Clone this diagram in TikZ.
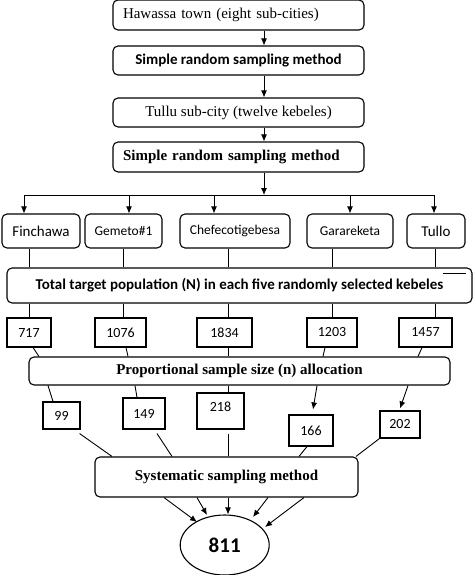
\documentclass[tikz,border=0pt]{standalone}
\usepackage{fontspec}
\setmainfont{Liberation Serif}
\newfontfamily\calib{Carlito}
\usetikzlibrary{arrows.meta, positioning, shapes.geometric}

\begin{document}
\begin{tikzpicture}[
    x=1pt, y=-1pt,
    step_box/.style={draw, rounded corners=5pt, line width=1.1pt, inner sep=0pt, font=\fontsize{15}{18}\selectfont},
    kebele_box/.style={step_box, minimum height=34pt, font=\calib\fontsize{13.5}{16}\selectfont},
    num_box/.style={draw, line width=1.1pt, inner sep=0pt, font=\calib\fontsize{14}{16}\selectfont},
    arrow/.style={-{Latex[length=7pt,width=6pt]}, line width=0.9pt},
    link/.style={line width=0.9pt}
]
    \useasboundingbox (0,0) rectangle (473,575);

    % Spine of the top part and the five kebele columns
    \coordinate (spine) at (264,0);
    \coordinate (col_a) at (29,0);
    \coordinate (col_b) at (123,0);
    \coordinate (col_c) at (228,0);
    \coordinate (col_d) at (332,0);
    \coordinate (col_e) at (435,0);

    % Sub-city selection steps
    \node[step_box, minimum width=251pt, minimum height=30pt, text width=231pt, align=left, inner xsep=10pt] (hawassa) at (238.5,15) {Hawassa town (eight sub-cities)};
    \node[step_box, minimum width=251pt, minimum height=29pt, font=\calib\bfseries\fontsize{15}{18}\selectfont] (srs_city) at (238.5,60.5) {Simple random sampling method};
    \node[step_box, minimum width=251pt, minimum height=29pt] (tullu) at (238.5,112.5) {Tullu sub-city (twelve kebeles)};
    \node[step_box, minimum width=251pt, minimum height=30pt, text width=231pt, align=left, inner xsep=10pt, font=\bfseries\fontsize{15}{18}\selectfont] (srs_kebele) at (238.5,157) {Simple random sampling method};

    \draw[arrow] (hawassa.south -| spine) -- (srs_city.north -| spine);
    \draw[arrow] (srs_city.south -| spine) -- (tullu.north -| spine);
    \draw[arrow] (tullu.south -| spine) -- (srs_kebele.north -| spine);

    % Distribution bar to the kebeles
    \coordinate (bar_left) at (24,195);
    \coordinate (bar_right) at (434,195);
    \draw[arrow] (srs_kebele.south -| spine) -- (bar_left -| spine);
    \draw[link] (bar_left) -- (bar_right);

    % Randomly selected kebeles
    \node[kebele_box, minimum width=78pt, font=\calib\fontsize{15}{18}\selectfont] (finchawa) at (41,231) {Finchawa};
    \node[kebele_box, minimum width=77pt] (gemeto) at (123.5,231) {Gemeto\#1};
    \node[kebele_box, minimum width=110pt] (chefeco) at (235,231) {Chefecotigebesa};
    \node[kebele_box, minimum width=86pt] (garareketa) at (350,231) {Garareketa};
    \node[kebele_box, minimum width=58pt, font=\calib\fontsize{15}{18}\selectfont] (tullo) at (436,231) {Tullo};

    \draw[arrow] (bar_left) -- (bar_left |- finchawa.north);
    \draw[arrow] (bar_left -| gemeto.north) ++(5.5,0) -- ([xshift=5.5pt]gemeto.north);
    \draw[arrow] (bar_left -| 214,0) -- (chefeco.north -| 214,0);
    \draw[arrow] (bar_left -| garareketa.north) -- (garareketa.north);
    \draw[arrow] (bar_right) -- (bar_right |- tullo.north);

    % Total target population
    \node[step_box, minimum width=465pt, minimum height=35pt, font=\calib\bfseries\fontsize{15}{18}\selectfont] (total) at (239.5,285.5) {Total target population (N) in each five randomly selected kebeles};
    \draw[link] ([xshift=-30pt, yshift=-6pt]total.north east) -- ([xshift=-7pt, yshift=-6pt]total.north east);

    \foreach \kebele/\col in {finchawa/col_a, gemeto/col_b, chefeco/col_c, garareketa/col_d, tullo/col_e}
        \draw[link] (\kebele.south -| \col) -- (total.north -| \col);

    % Population of each kebele
    \node[num_box, minimum width=44pt, minimum height=29pt] (pop_a) at (29,332.5) {717};
    \node[num_box, minimum width=51pt, minimum height=29pt] (pop_b) at (120.5,332.5) {1076};
    \node[num_box, minimum width=55pt, minimum height=29pt] (pop_c) at (224.5,332.5) {1834};
    \node[num_box, minimum width=50pt, minimum height=29pt] (pop_d) at (332,332.5) {1203};
    \node[num_box, minimum width=53pt, minimum height=29pt] (pop_e) at (425.5,332.5) {1457};

    \foreach \pop/\col in {pop_a/col_a, pop_b/col_b, pop_c/col_c, pop_d/col_d, pop_e/col_e}
        \draw[link] (total.south -| \col) -- (\pop.north -| \col);

    % Proportional allocation
    \node[step_box, minimum width=421pt, minimum height=28pt, font=\bfseries\fontsize{15}{18}\selectfont] (prop) at (239.5,371) {Proportional sample size (n) allocation};

    \draw[link] ([xshift=4pt]pop_a.south) -- ([xshift=10pt]pop_a.south |- prop.north);
    \draw[link] ([xshift=5.5pt]pop_b.south) -- ([xshift=7.5pt]pop_b.south |- prop.north);
    \draw[link] (pop_c.south -| col_c) -- (prop.north -| col_c);
    \draw[link] ([xshift=-7pt]pop_d.south) -- ([xshift=-9pt]pop_d.south |- prop.north);
    \draw[link] ([xshift=-3.5pt]pop_e.south) -- ([xshift=-7.5pt]pop_e.south |- prop.north);

    % Sample size of each kebele
    \node[num_box, minimum width=37pt, minimum height=27pt] (smp_a) at (61.5,415.5) {99};
    \node[num_box, minimum width=42pt, minimum height=31pt] (smp_b) at (144,413.5) {149};
    \node[num_box, minimum width=47pt, minimum height=36pt, text depth=8pt] (smp_c) at (220.5,411) {218};
    \node[num_box, minimum width=44pt, minimum height=31pt] (smp_d) at (311,430.5) {166};
    \node[num_box, minimum width=40pt, minimum height=27pt] (smp_e) at (400,424.5) {202};

    \draw[link] (prop.south -| 48,0) -- ([xshift=-8.5pt]smp_a.north);
    \draw[link] (prop.south -| 135,0) -- ([xshift=-7pt]smp_b.north);
    \draw[link] (prop.south -| col_c) -- (smp_c.north -| col_c);
    \draw[arrow] (prop.south -| 317,0) -- ([xshift=2pt, yshift=5pt]smp_d.north);
    \draw[arrow] (prop.south -| 408,0) -- ([yshift=2pt]smp_e.north);

    % Systematic sampling
    \node[step_box, minimum width=263pt, minimum height=40pt, font=\bfseries\fontsize{15}{18}\selectfont] (systematic) at (226.5,477) {Systematic sampling method};

    \draw[link] ([xshift=-1pt, yshift=-4pt]smp_a.south east) -- (systematic.north -| 112,0);
    \draw[link] ([xshift=13pt, yshift=-4pt]smp_b.south) -- (systematic.north -| 172,0);
    \draw[link] ([yshift=-4pt]smp_c.south -| col_c) -- (systematic.north -| col_c);
    \draw[link] ([xshift=-4pt]smp_d.south) -- (systematic.north -| 299,0);
    \draw[link] (smp_e.south west) -- (systematic.north -| 356,0);

    % Total sample
    \node[draw, ellipse, line width=1.1pt, minimum width=89pt, minimum height=60pt, inner sep=0pt, font=\calib\bfseries\fontsize{21}{24}\selectfont] (total_sample) at (224.7,545) {811};

    \draw[arrow] (systematic.south -| 164,0) -- (197,522);
    \draw[arrow] (systematic.south -| 197,0) -- (207,515);
    \draw[arrow] (systematic.south -| col_c) -- (total_sample.north -| col_c);
    \draw[arrow] (systematic.south -| 268,0) -- (253,517);
    \draw[arrow] (systematic.south -| 304,0) -- (265,527);

\end{tikzpicture}
\end{document}
